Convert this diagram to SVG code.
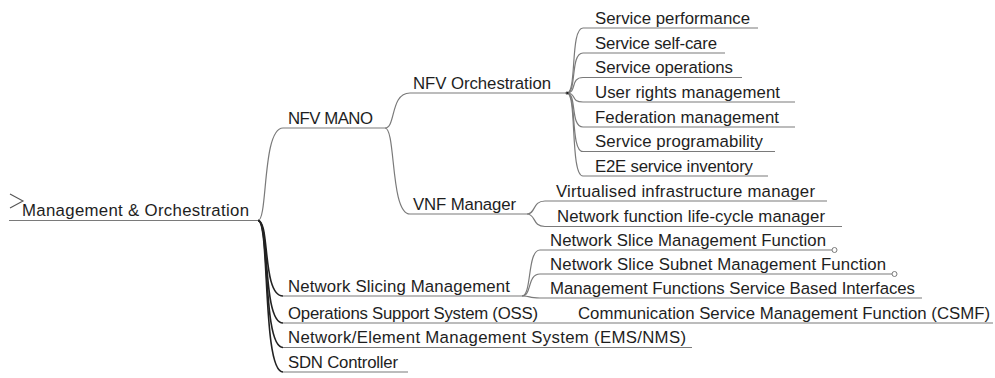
<svg xmlns="http://www.w3.org/2000/svg" width="995" height="378" viewBox="0 0 995 378">
<style>
text{font-family:"Liberation Sans",Arial,sans-serif;font-size:16.8px;fill:#1e1e1e}
.ul{stroke:#7a7a7a;stroke-width:1.2;fill:none}
.c{stroke:#7a7a7a;stroke-width:1.2;fill:none}
.cd{stroke:#222;stroke-width:1.6;fill:none}
.dot{fill:#fff;stroke:#7a7a7a;stroke-width:1}
</style>
<rect width="995" height="378" fill="#fff"/>
<g id="connectors">
<path class="c" d="M258,220.5 C268,220.5 262,128 283,128"/>
<path class="cd" d="M258,220.5 C270,220.5 262,296 283,296"/>
<path class="cd" d="M258,220.5 C270,220.5 262,323 283,323"/>
<path class="cd" d="M258,220.5 C270,220.5 262,347.5 283,347.5"/>
<path class="cd" d="M258,220.5 C270,220.5 262,372 283,372"/>
<path class="c" d="M385,128 C396,128 390,93 410,93"/>
<path class="c" d="M385,128 C396,128 390,214 410,214"/>
<path class="c" d="M567,93 C577,93 570,28 583,28"/>
<path class="c" d="M567,93 C577,93 570,53 583,53"/>
<path class="c" d="M567,93 C577,93 570,77.5 583,77.5"/>
<path class="c" d="M567,93 C577,93 570,102 583,102"/>
<path class="c" d="M567,93 C577,93 570,127 583,127"/>
<path class="c" d="M567,93 C577,93 570,151.5 583,151.5"/>
<path class="c" d="M567,93 C577,93 570,176 583,176"/>
<path class="c" d="M527,214 C536,214 532,201 545,201"/>
<path class="c" d="M527,214 C536,214 532,226.5 545,226.5"/>
<path class="c" d="M522,296 C532,296 527,250 540,250"/>
<path class="c" d="M522,296 C532,296 527,274 540,274"/>
<path class="c" d="M522,296 C532,296 527,298 540,298"/>
<circle cx="567" cy="93" r="1.5" fill="#222"/>
</g>
<g id="root">
<path d="M10,194 L23,201 L10,208" fill="none" stroke="#555" stroke-width="1.1"/>
<line class="ul" x1="9" y1="220.5" x2="258" y2="220.5"/>
<text x="22" y="216" textLength="227">Management &amp; Orchestration</text>
</g>
<g id="nfv-mano">
<line class="ul" x1="283" y1="128" x2="385" y2="128"/>
<text x="288" y="123.5" textLength="85">NFV MANO</text>
</g>
<g id="nfv-orchestration">
<line class="ul" x1="410" y1="93" x2="567" y2="93"/>
<text x="413" y="88.5" textLength="138">NFV Orchestration</text>
</g>
<g id="service-performance">
<line class="ul" x1="583" y1="28" x2="758" y2="28"/>
<text x="595" y="23.5" textLength="155">Service performance</text>
</g>
<g id="service-self-care">
<line class="ul" x1="583" y1="53" x2="725" y2="53"/>
<text x="595" y="48.5" textLength="122">Service self-care</text>
</g>
<g id="service-operations">
<line class="ul" x1="583" y1="77.5" x2="742" y2="77.5"/>
<text x="595" y="73" textLength="138">Service operations</text>
</g>
<g id="user-rights-management">
<line class="ul" x1="583" y1="102" x2="795" y2="102"/>
<text x="595" y="97.5" textLength="185">User rights management</text>
</g>
<g id="federation-management">
<line class="ul" x1="583" y1="127" x2="795" y2="127"/>
<text x="595" y="122.5" textLength="184">Federation management</text>
</g>
<g id="service-programability">
<line class="ul" x1="583" y1="151.5" x2="775" y2="151.5"/>
<text x="595" y="147" textLength="168">Service programability</text>
</g>
<g id="e2e-service-inventory">
<line class="ul" x1="583" y1="176" x2="768" y2="176"/>
<text x="595" y="171.5" textLength="158">E2E service inventory</text>
</g>
<g id="vnf-manager">
<line class="ul" x1="410" y1="214" x2="527" y2="214"/>
<text x="413" y="209.5" textLength="103">VNF Manager</text>
</g>
<g id="virtualised-infrastructure-manager">
<line class="ul" x1="545" y1="201" x2="827" y2="201"/>
<text x="556" y="196.5" textLength="259">Virtualised infrastructure manager</text>
</g>
<g id="network-function-lcm">
<line class="ul" x1="545" y1="226.5" x2="842" y2="226.5"/>
<text x="557" y="222" textLength="268">Network function life-cycle manager</text>
</g>
<g id="network-slicing-management">
<line class="ul" x1="283" y1="296" x2="522" y2="296"/>
<text x="288" y="291.5" textLength="222">Network Slicing Management</text>
</g>
<g id="nsmf">
<line class="ul" x1="540" y1="250" x2="832" y2="250"/>
<circle class="dot" cx="834.5" cy="250" r="2.5"/>
<text x="550" y="245.5" textLength="276">Network Slice Management Function</text>
</g>
<g id="nssmf">
<line class="ul" x1="540" y1="274" x2="892" y2="274"/>
<circle class="dot" cx="894.5" cy="274" r="2.5"/>
<text x="550" y="269.5" textLength="336">Network Slice Subnet Management Function</text>
</g>
<g id="mfsbi">
<line class="ul" x1="540" y1="298" x2="922" y2="298"/>
<text x="550" y="293.5" textLength="365">Management Functions Service Based Interfaces</text>
</g>
<g id="oss">
<line class="ul" x1="283" y1="323" x2="548" y2="323"/>
<text x="288" y="318.5" textLength="250">Operations Support System (OSS)</text>
</g>
<g id="csmf">
<line class="ul" x1="548" y1="323" x2="993" y2="323"/>
<text x="578" y="318.5" textLength="412">Communication Service Management Function (CSMF)</text>
</g>
<g id="ems-nms">
<line class="ul" x1="283" y1="347.5" x2="692" y2="347.5"/>
<text x="288" y="343" textLength="398">Network/Element Management System (EMS/NMS)</text>
</g>
<g id="sdn-controller">
<line class="ul" x1="283" y1="372" x2="408" y2="372"/>
<text x="288" y="367.5" textLength="110">SDN Controller</text>
</g>
</svg>
